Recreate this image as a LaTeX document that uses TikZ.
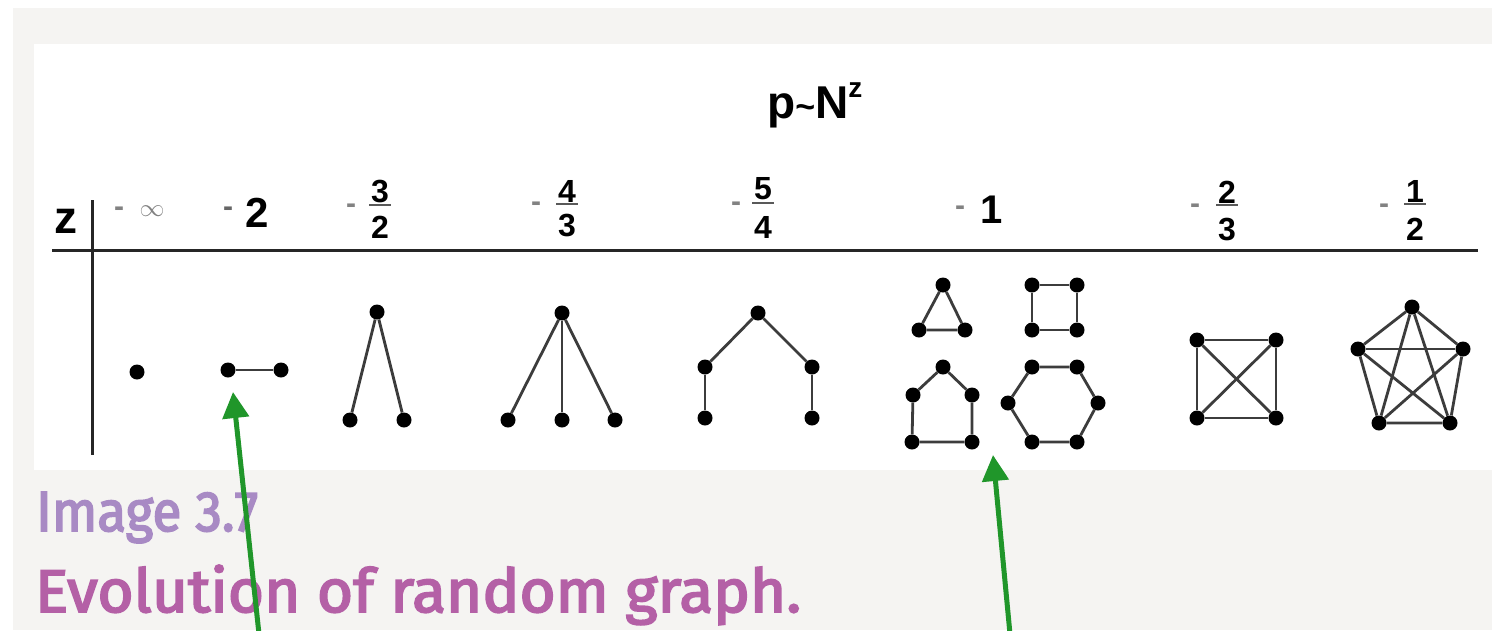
\documentclass[tikz,border=0pt]{standalone}
\usepackage{fontspec}
\setmainfont{Liberation Sans}
\newfontfamily\capfont{Fira Sans}[FakeBold=3]
\usepackage{graphicx}
\usetikzlibrary{arrows.meta}
\definecolor{panelgray}{RGB}{245,244,242}
\definecolor{edgegray}{RGB}{60,60,60}
\definecolor{arrowgreen}{RGB}{32,150,42}
\definecolor{caplight}{RGB}{168,138,196}
\definecolor{capdark}{RGB}{180,96,166}
\definecolor{minusgray}{RGB}{130,130,130}
\begin{document}
\begin{tikzpicture}[x=1pt,y=-1pt,
  vtx/.style={circle,fill=black,inner sep=0pt,minimum size=15pt},
  edge/.style={draw=edgegray,line width=2.8pt},
  axisline/.style={draw=black!85,line width=3pt},
  lbl/.style={inner sep=0pt,anchor=base,font=\bfseries\fontsize{32}{32}\selectfont},
  minus/.style={inner sep=0pt,text=minusgray,font=\bfseries\fontsize{30}{30}\selectfont},
  fbar/.style={draw=black!65,line width=1.4pt},
  ptr/.style={draw=arrowgreen,line width=5pt,-{Triangle[length=26pt,width=26pt]}}
]
\useasboundingbox (0,0) rectangle (1492,630);
% panels
\fill[white] (0,0) rectangle (1492,630);
\fill[panelgray] (13,8) rectangle (1492,630);
\fill[white] (34,44) rectangle (1492,470);

% title
\node[anchor=base west,inner sep=0pt] (title) at (767,118)
  {\bfseries\fontsize{46}{46}\selectfont p{\fontsize{34}{34}\selectfont\textasciitilde}N\raisebox{21pt}{\fontsize{28}{28}\selectfont z}};

% axes
\coordinate (hl) at (52,250); \coordinate (hr) at (1478,250);
\coordinate (vt) at (92,200); \coordinate (vb) at (92,455);
\draw[axisline] (hl) -- (hr);
\draw[axisline] (vt) -- (vb);
\node[anchor=base west,inner sep=0pt,font=\bfseries\fontsize{46}{46}\selectfont] (zl) at (54,233) {z};

% column labels
\node[minus] (m0) at (119,212) {-};
\node[inner sep=0pt,text=minusgray] (inf) at (152,211) {\fontsize{28}{28}\selectfont$\infty$};
\node[minus,text=black!60] (m1) at (228,212) {-};
\node[inner sep=0pt,anchor=base west,font=\bfseries\fontsize{42}{42}\selectfont] (two) at (245,227) {2};
% -3/2
\node[minus] (m2) at (351,209) {-};
\node[lbl] (n2) at (380,202) {3};
\node[lbl] (d2) at (380,238) {2};
\draw[fbar] (369,205) -- (391,205);
% -4/3
\node[minus] (m3) at (536,207) {-};
\node[lbl] (n3) at (567,202) {4};
\node[lbl] (d3) at (567,236) {3};
\draw[fbar] (556,204) -- (578,204);
% -5/4
\node[minus] (m4) at (736,207) {-};
\node[lbl] (n4) at (763,199) {5};
\node[lbl] (d4) at (763,238) {4};
\draw[fbar] (752,203) -- (774,203);
% -1
\node[minus] (m5) at (960,211) {-};
\node[inner sep=0pt,anchor=base,font=\bfseries\fontsize{40}{40}\selectfont] (one) at (992,223) {1};
% -2/3
\node[minus] (m6) at (1195,209) {-};
\node[lbl] (n6) at (1227,203) {2};
\node[lbl] (d6) at (1227,240) {3};
\draw[fbar] (1216,205) -- (1238,205);
% -1/2
\node[minus] (m7) at (1384,209) {-};
\node[lbl] (n7) at (1415,202) {1};
\node[lbl] (d7) at (1415,240) {2};
\draw[fbar] (1404,204) -- (1426,204);

% graphs
\node[vtx] (g0) at (137,372) {};

\node[vtx] (g1a) at (228,370) {};
\node[vtx] (g1b) at (281,370) {};
\draw[edge] (g1a) -- (g1b);

\node[vtx] (g2t) at (377,312) {};
\node[vtx] (g2l) at (350,420) {};
\node[vtx] (g2r) at (404,420) {};
\draw[edge] (g2t) -- (g2l); \draw[edge] (g2t) -- (g2r);

\node[vtx] (g3t) at (562,313) {};
\node[vtx] (g3l) at (508,420) {};
\node[vtx] (g3m) at (562,420) {};
\node[vtx] (g3r) at (615,420) {};
\draw[edge] (g3t) -- (g3l); \draw[edge] (g3t) -- (g3m); \draw[edge] (g3t) -- (g3r);

\node[vtx] (g4t) at (758,313) {};
\node[vtx] (g4ml) at (705,367) {};
\node[vtx] (g4mr) at (812,367) {};
\node[vtx] (g4bl) at (705,418) {};
\node[vtx] (g4br) at (812,418) {};
\draw[edge] (g4t) -- (g4ml); \draw[edge] (g4t) -- (g4mr);
\draw[edge] (g4ml) -- (g4bl); \draw[edge] (g4mr) -- (g4br);

% cycles
\node[vtx] (c3a) at (943,285) {};
\node[vtx] (c3b) at (919,330) {};
\node[vtx] (c3c) at (965,330) {};
\draw[edge] (c3a) -- (c3b) -- (c3c) -- (c3a);

\node[vtx] (c4a) at (1032,285) {};
\node[vtx] (c4b) at (1077,285) {};
\node[vtx] (c4c) at (1077,330) {};
\node[vtx] (c4d) at (1032,330) {};
\draw[edge] (c4a) -- (c4b) -- (c4c) -- (c4d) -- (c4a);

\node[vtx] (c5a) at (943,367) {};
\node[vtx] (c5b) at (972,395) {};
\node[vtx] (c5c) at (972,442) {};
\node[vtx] (c5d) at (912,442) {};
\node[vtx] (c5e) at (913,395) {};
\draw[edge] (c5a) -- (c5b) -- (c5c) -- (c5d) -- (c5e) -- (c5a);

\node[vtx] (c6a) at (1032,367) {};
\node[vtx] (c6b) at (1077,367) {};
\node[vtx] (c6c) at (1098,403) {};
\node[vtx] (c6d) at (1077,442) {};
\node[vtx] (c6e) at (1032,442) {};
\node[vtx] (c6f) at (1008,403) {};
\draw[edge] (c6a) -- (c6b) -- (c6c) -- (c6d) -- (c6e) -- (c6f) -- (c6a);

% K4
\node[vtx] (k4a) at (1197,340) {};
\node[vtx] (k4b) at (1276,340) {};
\node[vtx] (k4c) at (1276,418) {};
\node[vtx] (k4d) at (1197,418) {};
\draw[edge] (k4a) -- (k4b) -- (k4c) -- (k4d) -- (k4a);
\draw[edge] (k4a) -- (k4c); \draw[edge] (k4b) -- (k4d);

% K5
\node[vtx] (k5a) at (1412,307) {};
\node[vtx] (k5b) at (1463,349) {};
\node[vtx] (k5c) at (1450,423) {};
\node[vtx] (k5d) at (1379,423) {};
\node[vtx] (k5e) at (1358,349) {};
\draw[edge] (k5a) -- (k5b) -- (k5c) -- (k5d) -- (k5e) -- (k5a);
\draw[edge] (k5a) -- (k5c); \draw[edge] (k5a) -- (k5d);
\draw[edge] (k5b) -- (k5d); \draw[edge] (k5b) -- (k5e);
\draw[edge] (k5c) -- (k5e);

% caption
\node[anchor=base west,inner sep=0pt,text=caplight] (cap1) at (36,531)
  {\resizebox{222pt}{39pt}{\capfont Image 3.7}};
\node[anchor=base west,inner sep=0pt,text=capdark] (cap2) at (35,612)
  {\resizebox{766pt}{47pt}{\capfont Evolution of random graph.}};

% green pointers
\coordinate (a1s) at (259,634);
\coordinate (a1t) at (233,392);
\coordinate (a2s) at (1010,634);
\coordinate (a2t) at (993,455);
\draw[ptr] (a1s) -- (a1t);
\draw[ptr] (a2s) -- (a2t);
\end{tikzpicture}
\end{document}
